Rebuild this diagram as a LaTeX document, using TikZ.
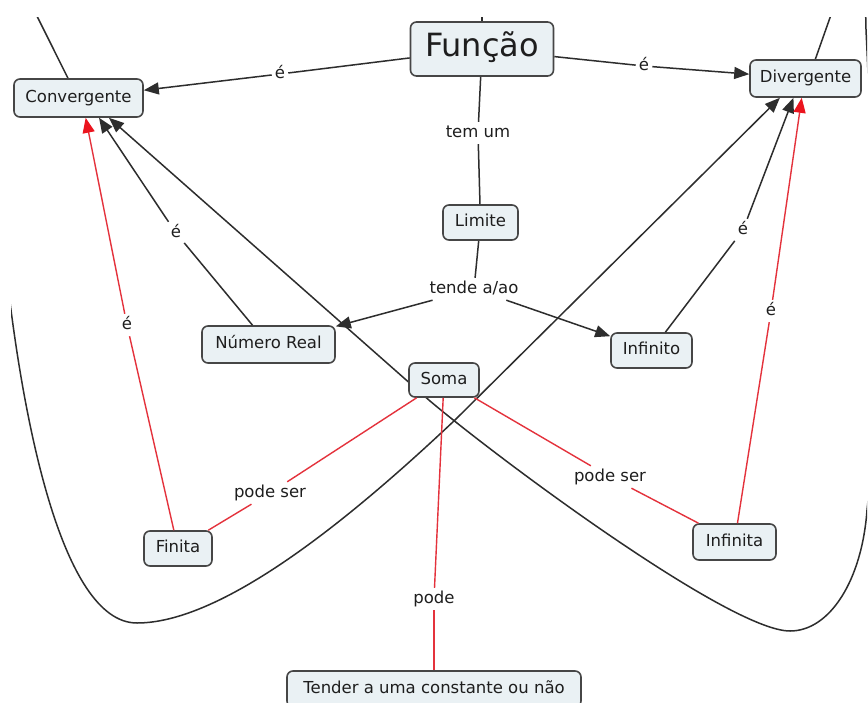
\documentclass[tikz,border=0pt]{standalone}
\usepackage{fontspec}
\setmainfont{DejaVu Sans}
\usetikzlibrary{arrows.meta,backgrounds}
\definecolor{nodefill}{RGB}{234,241,244}
\definecolor{nodeborder}{RGB}{70,70,70}
\definecolor{linkgray}{RGB}{45,45,45}
\definecolor{linkred}{RGB}{228,50,60}
\definecolor{tipred}{RGB}{235,20,30}
\definecolor{txt}{RGB}{30,30,30}
\begin{document}
\begin{tikzpicture}[x=1pt,y=-1pt,
  concept/.style={draw=nodeborder, line width=1.6pt, fill=nodefill, rounded corners=6pt,
    text=txt, font=\fontsize{16.5}{18}\selectfont, inner sep=0pt,
    text height=12pt, text depth=4pt},
  lab/.style={text=txt, font=\fontsize{16.5}{18}\selectfont, inner sep=3pt,
    text height=12pt, text depth=4pt},
  link/.style={draw=linkgray, line width=1.5pt},
  redlink/.style={draw=linkred, line width=1.4pt},
  arr/.style={-{Triangle[length=15pt,width=12pt]}},
  redarr/.style={-{Triangle[length=15pt,width=12pt,color=tipred]}}
]
\useasboundingbox (0,0) rectangle (868,702);

% concepts
\node[concept, minimum width=143pt, minimum height=54pt, font=\fontsize{32}{36}\selectfont,
      text height=23.4pt, text depth=7.7pt] (funcao) at (482,49) {Função};
\node[concept, minimum width=129pt, minimum height=38pt] (conv) at (78.5,98) {Convergente};
\node[concept, minimum width=111pt, minimum height=37pt] (div) at (805.5,78.5) {Divergente};
\node[concept, minimum width=75pt, minimum height=35pt] (limite) at (480.5,222.5) {Limite};
\node[concept, minimum width=133pt, minimum height=37pt] (nr) at (268.5,344.5) {Número Real};
\node[concept, minimum width=81pt, minimum height=35pt] (infinito) at (651.5,350.5) {Infinito};
\node[concept, minimum width=70pt, minimum height=34pt] (soma) at (444,380) {Soma};
\node[concept, minimum width=68pt, minimum height=35pt] (finita) at (178,548.5) {Finita};
\node[concept, minimum width=83pt, minimum height=36pt] (infinita) at (734.5,542) {Infinita};
\node[concept, minimum width=294pt, minimum height=36pt] (tender) at (434,689) {Tender a uma constante ou não};

% linking phrases
\node[lab] (e1) at (280,74) {é};
\node[lab] (e2) at (644,66) {é};
\node[lab] (temum) at (478,133) {tem um};
\node[lab] (tende) at (474,289) {tende a/ao};
\node[lab] (e3) at (176,233) {é};
\node[lab] (e4) at (127,325) {é};
\node[lab] (e5) at (743,230) {é};
\node[lab] (e6) at (771,311) {é};
\node[lab] (ps1) at (270,493) {pode ser};
\node[lab] (ps2) at (610,477) {pode ser};
\node[lab] (pode) at (434,599) {pode};

% connectors
\draw[link] (funcao) -- (e1);
\draw[link,arr] (e1) -- (conv);
\draw[link] (funcao) -- (e2);
\draw[link,arr] (e2) -- (div);
\draw[link] (funcao) -- (temum);
\draw[link] (temum) -- (limite);
\draw[link] (limite) -- (tende);
\draw[link,arr] (tende) -- (nr);
\draw[link,arr] (tende) -- (infinito);
\draw[link] (nr) -- (e3);
\draw[link,arr] (e3) -- (conv.316);
\draw[redlink] (finita) -- (e4);
\draw[redlink,redarr] (e4) -- (conv.290);
\draw[link] (infinito) -- (e5);
\draw[link,arr] (e5) -- (div.238);
\draw[redlink] (infinita) -- (e6);
\draw[redlink,redarr] (e6) -- (div.259);
\draw[redlink] (soma) -- (ps1);
\draw[redlink] (ps1) -- (finita);
\draw[redlink] (soma) -- (ps2);
\draw[redlink] (ps2) -- (infinita);
\draw[redlink] (soma) -- (pode);
\draw[redlink] (pode) -- (tender);

% long curved connectors, partly outside the frame
\begin{scope}[on background layer]
  \fill[white] (0,0) rectangle (868,702);
  \clip (11,17) rectangle (867,702);
  \coordinate (top) at (482,-20);
  \draw[link] (funcao.north) -- (top);
  \draw[link,arr] (conv.118) -- (24,-10) .. controls (0,-60) and (-10,150) .. (11,310)
     .. controls (24,410) and (60,623) .. (137,623)
     .. controls (230,623) and (370,500) .. (455,420) -- (div.217);
  \draw[link,arr] (div.63) -- (838,-5) .. controls (850,-40) and (866,-30) .. (866,30)
     .. controls (872,150) and (880,400) .. (867,510)
     .. controls (862,580) and (830,631) .. (790,631)
     .. controls (730,631) and (500,460) .. (430,401) -- (conv.327);
\end{scope}
\end{tikzpicture}
\end{document}
